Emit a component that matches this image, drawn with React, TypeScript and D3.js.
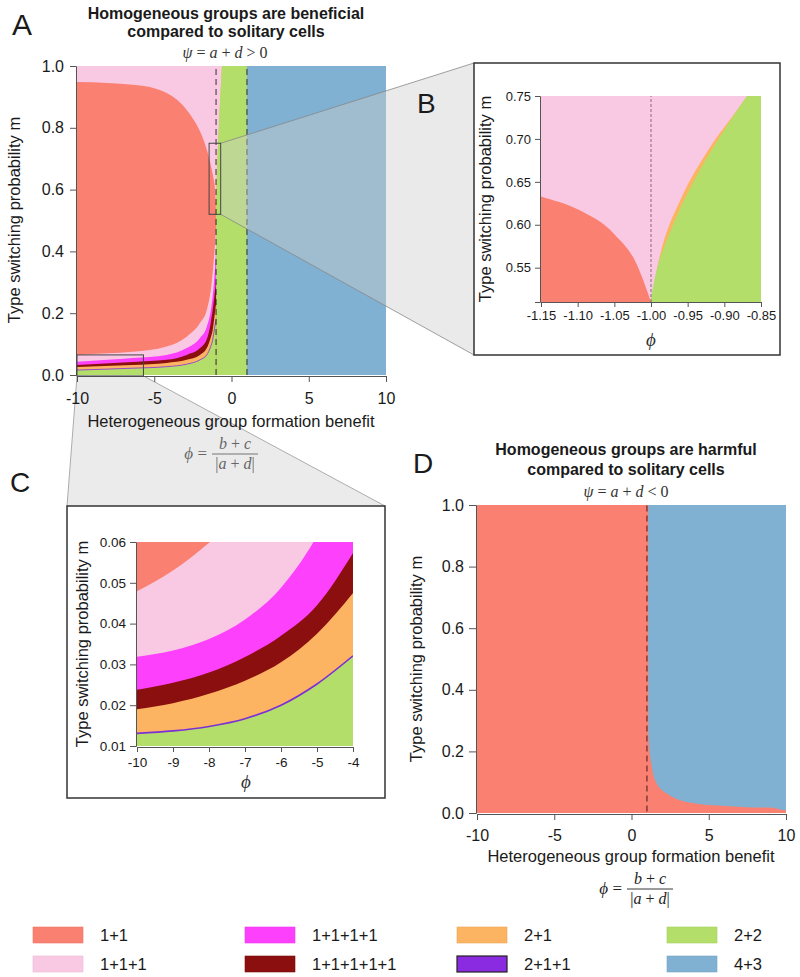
import React, { useEffect, useRef } from 'react';
import * as d3 from 'd3';

// group compositions, legend order (column by column)
const groupLabels = ['1+1', '1+1+1', '1+1+1+1', '1+1+1+1+1', '2+1', '2+1+1', '2+2', '4+3'];
const groupColors = ['#fa8072', '#f9c9e3', '#fc40fc', '#8b0f0f', '#fdb462', '#8a2be2', '#b3de69', '#80b1d3'];

// psi > 0, boundaries as [phi, m]
const redTop = [[-10, 0.948], [-8, 0.945], [-6.4, 0.939], [-5, 0.928], [-4.2, 0.913], [-3.5, 0.89], [-2.9, 0.858], [-2.5, 0.83], [-2.15, 0.8], [-1.8, 0.76], [-1.6, 0.73], [-1.3, 0.67], [-1.15, 0.633], [-1.1, 0.618], [-1.05, 0.589], [-1.02, 0.555], [-1.0, 0.51]];
const redBottom = [[-10, 0.065], [-8, 0.07], [-6.4, 0.075], [-4.2, 0.092], [-2.9, 0.124], [-2.04, 0.168], [-1.6, 0.21], [-1.28, 0.3], [-1.15, 0.37], [-1.06, 0.43], [-1.0, 0.48]];
const pinkBottom = [[-10, 0.043], [-8, 0.049], [-6.4, 0.055], [-4.2, 0.065], [-2.9, 0.087], [-2.04, 0.12], [-1.6, 0.156], [-1.28, 0.23], [-1.15, 0.29], [-1.05, 0.36], [-1.0, 0.4]];
const magentaBottom = [[-10, 0.032], [-6.4, 0.042], [-4.2, 0.049], [-2.9, 0.065], [-2.04, 0.087], [-1.6, 0.116], [-1.35, 0.167], [-1.22, 0.21], [-1.1, 0.26], [-1.0, 0.3]];
const darkredBottom = [[-10, 0.026], [-6.4, 0.032], [-4.2, 0.039], [-2.9, 0.049], [-2.04, 0.065], [-1.6, 0.087], [-1.35, 0.12], [-1.22, 0.145], [-1.1, 0.19], [-1.0, 0.23]];
const orangeBottom = [[-10, 0.016], [-6.4, 0.022], [-4.2, 0.027], [-2.9, 0.035], [-2.04, 0.049], [-1.6, 0.065], [-1.35, 0.092], [-1.22, 0.113], [-1.1, 0.15], [-1.0, 0.18]];
// left edges of the 2+2 and 2+1 regions, [m, phi]
const greenEdge = [[0, -1.0], [0.51, -1.0], [0.53, -0.9965], [0.55, -0.9915], [0.58, -0.9795], [0.6, -0.97], [0.625, -0.957], [0.65, -0.942], [0.675, -0.926], [0.7, -0.908], [0.725, -0.889], [0.75, -0.869], [0.8, -0.826], [0.9, -0.73], [1.0, -0.62]];
const orangeEdge = [[0.51, -1.0], [0.55, -0.9915], [0.58, -0.983], [0.6, -0.975], [0.625, -0.962], [0.65, -0.948], [0.675, -0.931], [0.7, -0.912], [0.725, -0.89], [0.75, -0.869], [1.0, -0.62]];

// panel C (finer grid)
const cRedBottom = [[-10, 0.0479], [-9, 0.053], [-8, 0.0598], [-7, 0.068], [-6, 0.078], [-4, 0.1]];
const cPinkBottom = [[-10, 0.0319], [-9, 0.0334], [-8, 0.0362], [-7, 0.041], [-6, 0.0488], [-5, 0.0615], [-4, 0.08]];
const cMagentaBottom = [[-10, 0.0238], [-9, 0.0255], [-8, 0.028], [-7, 0.0318], [-6, 0.037], [-5, 0.0445], [-4, 0.0573]];
const cDarkredBottom = [[-10, 0.019], [-9, 0.0205], [-8, 0.0228], [-7, 0.026], [-6, 0.0305], [-5, 0.0375], [-4, 0.0475]];
const cOrangeBottom = [[-10, 0.0131], [-9, 0.0137], [-8, 0.0148], [-7, 0.0167], [-6, 0.02], [-5, 0.0252], [-4, 0.0321]];

// psi < 0: 1+1 / 4+3 boundary, [phi, m]
const dBoundary = [[1.08, 1.0], [1.09, 0.5], [1.1, 0.25], [1.32, 0.149], [1.64, 0.095], [2.29, 0.063], [3.15, 0.041], [4.23, 0.03], [5.3, 0.025], [7.46, 0.019], [9.18, 0.017], [9.61, 0.011], [10, 0.009]];

// zoom windows drawn in panel A
const zoomBoxBPhi = [-1.45, -0.7];
const zoomBoxBM = [0.52, 0.75];
const zoomBoxCPhi = [-10, -5.7];
const zoomBoxCM = [-0.003, 0.065];

const aXTicks = [-10, -5, 0, 5, 10];
const aYTicks = [0, 0.2, 0.4, 0.6, 0.8, 1.0];
const bXTicks = [-1.15, -1.1, -1.05, -1.0, -0.95, -0.9, -0.85];
const bYTicks = [0.55, 0.6, 0.65, 0.7, 0.75];
const cXTicks = [-10, -9, -8, -7, -6, -5, -4];
const cYTicks = [0.01, 0.02, 0.03, 0.04, 0.05, 0.06];

const FONT = 'Liberation Sans, Arial, Helvetica, sans-serif';
const SERIF = 'Liberation Serif, DejaVu Serif, Times New Roman, serif';

const col = (name: string) => groupColors[groupLabels.indexOf(name)];

const App = () => {
  const ref = useRef<SVGSVGElement>(null);

  useEffect(() => {
    const svg = d3.select(ref.current);
    svg.selectAll('*').remove();

    const ax = d3.scaleLinear().domain([-10, 10]).range([77, 386]);
    const ay = d3.scaleLinear().domain([0, 1]).range([375, 66]);
    const bx = d3.scaleLinear().domain([-1.15, -0.85]).range([541, 761]);
    const by = d3.scaleLinear().domain([0.51, 0.75]).range([302, 96]);
    const cx = d3.scaleLinear().domain([-10, -4]).range([137, 353]);
    const cy = d3.scaleLinear().domain([0.01, 0.06]).range([746, 542]);
    const dx = d3.scaleLinear().domain([-10, 10]).range([477, 786]);
    const dy = d3.scaleLinear().domain([0, 1]).range([813, 505]);

    const defs = svg.append('defs');
    const clip = (id, x, y) => {
      const [x0, x1] = x.range();
      const [y0, y1] = y.range();
      defs.append('clipPath').attr('id', id).append('rect')
        .attr('x', x0).attr('y', y1).attr('width', x1 - x0).attr('height', y0 - y1);
      return `url(#${id})`;
    };

    const txt = (g, x, y, s, size, opts: any = {}) => {
      const t = g.append('text').attr('x', x).attr('y', y).text(s)
        .attr('font-family', opts.family || FONT).attr('font-size', size)
        .attr('fill', opts.fill || '#1a1a1a')
        .attr('text-anchor', opts.anchor || 'middle');
      if (opts.weight) t.attr('font-weight', opts.weight);
      if (opts.rotate) t.attr('transform', `rotate(${opts.rotate},${x},${y})`);
      return t;
    };

    // serif formula made of [string, italic] parts
    const formula = (g, x, y, parts, size, fill, anchor = 'middle') => {
      const t = g.append('text').attr('x', x).attr('y', y).attr('font-family', SERIF)
        .attr('font-size', size).attr('fill', fill).attr('text-anchor', anchor);
      parts.forEach(([s, it]) => t.append('tspan').text(s).attr('font-style', it ? 'italic' : 'normal'));
    };
    const phiFormula = (g, fc, barY, fill) => {
      formula(g, fc - 28, barY + 5, [['ϕ', true], [' =', false]], 17, fill, 'end');
      formula(g, fc, barY - 5, [['b', true], [' + ', false], ['c', true]], 16, fill);
      formula(g, fc, barY + 15, [['|', false], ['a', true], [' + ', false], ['d', true], ['|', false]], 16, fill);
      g.append('line').attr('x1', fc - 23).attr('x2', fc + 23).attr('y1', barY).attr('y2', barY)
        .attr('stroke', fill).attr('stroke-width', 0.9);
    };

    const axis = (g, scale, orient, ticks, fmt, size, at, len, pad) => {
      const a = (orient === 'left' ? d3.axisLeft(scale) : d3.axisBottom(scale))
        .tickValues(ticks).tickFormat(fmt).tickSizeOuter(0).tickSize(len).tickPadding(pad);
      const ag = g.append('g')
        .attr('transform', orient === 'left' ? `translate(${at},0)` : `translate(0,${at})`)
        .call(a);
      ag.attr('font-family', FONT).attr('font-size', size);
      ag.select('.domain').attr('stroke', '#555');
      ag.selectAll('.tick line').attr('stroke', '#555');
      ag.selectAll('.tick text').attr('fill', '#1a1a1a');
      return ag;
    };

    const area = (x, y, y0) => d3.area().x(d => x(d[0])).y0(y(y0)).y1(d => y(d[1])).curve(d3.curveMonotoneX);
    const edgePath = (x, y, edge) =>
      d3.line().x(d => x(d[1])).y(d => y(d[0])).curve(d3.curveMonotoneY)(edge) +
      `L${x(1)},${y(1)}L${x(1)},${y(0)}Z`;

    // phase map for psi > 0, shared by A and B
    const drawPositive = (g, x, y, dash, dashColor, width) => {
      const [x0, x1] = x.range();
      const [y0, y1] = y.range();
      g.append('rect').attr('x', x0).attr('y', y1).attr('width', x1 - x0).attr('height', y0 - y1).attr('fill', col('1+1+1'));
      g.append('path').attr('d', edgePath(x, y, orangeEdge)).attr('fill', col('2+1'));
      g.append('path').attr('d', edgePath(x, y, greenEdge)).attr('fill', col('2+2'));
      g.append('rect').attr('x', x(1)).attr('y', y(1)).attr('width', x(10) - x(1)).attr('height', y(0) - y(1)).attr('fill', col('4+3'));
      g.append('path').attr('d', area(x, y, 0)(redTop)).attr('fill', col('1+1'));
      const bands = [[redBottom, '1+1+1'], [pinkBottom, '1+1+1+1'], [magentaBottom, '1+1+1+1+1'], [darkredBottom, '2+1'], [orangeBottom, '2+2']];
      bands.forEach(([pts, name]) => g.append('path').attr('d', area(x, y, 0)(pts)).attr('fill', col(name as string)));
      g.append('path').attr('d', d3.line().x(d => x(d[0])).y(d => y(d[1])).curve(d3.curveMonotoneX)(orangeBottom))
        .attr('fill', 'none').attr('stroke', col('2+1+1')).attr('stroke-width', 0.8);
      [-1, 1].forEach(v => g.append('line').attr('x1', x(v)).attr('x2', x(v)).attr('y1', y0).attr('y2', y1)
        .attr('stroke', dashColor).attr('stroke-width', width).attr('stroke-dasharray', dash));
    };

    // ---------- funnel to C (behind A) ----------
    const cFrame = { x0: 67, y0: 506, x1: 385, y1: 798 };
    const bFrame = { x0: 474, y0: 63, x1: 780, y1: 355 };
    const cb = { l: ax(zoomBoxCPhi[0]), r: ax(zoomBoxCPhi[1]), t: ay(zoomBoxCM[1]), b: ay(zoomBoxCM[0]) };
    const bb = { l: ax(zoomBoxBPhi[0]), r: ax(zoomBoxBPhi[1]), t: ay(zoomBoxBM[1]), b: ay(zoomBoxBM[0]) };
    svg.append('path')
      .attr('d', `M${cb.l},${cb.b}L${cb.r},${cb.b}L${cFrame.x1},${cFrame.y0}L${cFrame.x0},${cFrame.y0}Z`)
      .attr('fill', '#ebebeb');
    [[cb.l, cFrame.x0], [cb.r, cFrame.x1]].forEach(([a, b]) =>
      svg.append('line').attr('x1', a).attr('y1', cb.b).attr('x2', b).attr('y2', cFrame.y0).attr('stroke', '#999').attr('stroke-width', 0.8));

    // ---------- Panel A ----------
    const gA = svg.append('g');
    drawPositive(gA.append('g').attr('clip-path', clip('clipA', ax, ay)), ax, ay, '6,4', 'rgba(30,30,30,0.75)', 1.2);
    axis(gA, ay, 'left', aYTicks, d => d3.format('.1f')(d), 16, 76, 6, 6);
    axis(gA, ax, 'bottom', aXTicks, d => String(d), 16, 376, 6, 11);
    txt(gA, 12, 35, 'A', 30, { anchor: 'start' });
    txt(gA, 226, 19, 'Homogeneous groups are beneficial', 16, { weight: 'bold' });
    txt(gA, 226, 37, 'compared to solitary cells', 16, { weight: 'bold' });
    formula(gA, 225, 58, [['ψ', true], [' = ', false], ['a', true], [' + ', false], ['d', true], [' > 0', false]], 16, '#333');
    txt(gA, 20, 220, 'Type switching probability m', 16.5, { rotate: -90 });
    txt(gA, 231, 427, 'Heterogeneous group formation benefit', 16.5);
    phiFormula(gA, 235, 454, '#666');

    // ---------- funnel to B (over A) ----------
    svg.append('path')
      .attr('d', `M${bb.r},${bb.t}L${bFrame.x0},${bFrame.y0}L${bFrame.x0},${bFrame.y1}L${bb.r},${bb.b}Z`)
      .attr('fill', '#cccccc').attr('fill-opacity', 0.42);
    [[bb.t, bFrame.y0], [bb.b, bFrame.y1]].forEach(([a, b]) =>
      svg.append('line').attr('x1', bb.r).attr('y1', a).attr('x2', bFrame.x0).attr('y2', b).attr('stroke', '#888').attr('stroke-width', 0.8));
    [bb, cb].forEach(b => svg.append('rect').attr('x', b.l).attr('y', b.t).attr('width', b.r - b.l).attr('height', b.b - b.t)
      .attr('fill', 'none').attr('stroke', '#444').attr('stroke-width', 1));

    // ---------- Panel B ----------
    const gB = svg.append('g');
    gB.append('rect').attr('x', bFrame.x0).attr('y', bFrame.y0).attr('width', bFrame.x1 - bFrame.x0).attr('height', bFrame.y1 - bFrame.y0)
      .attr('fill', '#fff').attr('stroke', '#333').attr('stroke-width', 1.5);
    drawPositive(gB.append('g').attr('clip-path', clip('clipB', bx, by)), bx, by, '3,2', 'rgba(90,60,90,0.7)', 1);
    axis(gB, by, 'left', bYTicks, d => d.toFixed(2), 13, 540, 5, 4);
    axis(gB, bx, 'bottom', bXTicks, d => d.toFixed(2), 13, 302, 5, 4);
    txt(gB, 417, 113, 'B', 28, { anchor: 'start' });
    txt(gB, 491, 199, 'Type switching probability m', 16.5, { rotate: -90 });
    formula(gB, 651, 346, [['ϕ', true]], 19, '#333');

    // ---------- Panel C ----------
    const gC = svg.append('g');
    gC.append('rect').attr('x', cFrame.x0).attr('y', cFrame.y0).attr('width', cFrame.x1 - cFrame.x0).attr('height', cFrame.y1 - cFrame.y0)
      .attr('fill', '#fff').attr('stroke', '#333').attr('stroke-width', 1.5);
    const pC = gC.append('g').attr('clip-path', clip('clipC', cx, cy));
    pC.append('rect').attr('x', cx(-10)).attr('y', cy(0.06)).attr('width', cx(-4) - cx(-10)).attr('height', cy(0.01) - cy(0.06)).attr('fill', col('1+1'));
    const cBands = [[cRedBottom, '1+1+1'], [cPinkBottom, '1+1+1+1'], [cMagentaBottom, '1+1+1+1+1'], [cDarkredBottom, '2+1'], [cOrangeBottom, '2+2']];
    cBands.forEach(([pts, name]) => pC.append('path').attr('d', area(cx, cy, 0)(pts)).attr('fill', col(name as string)));
    pC.append('path').attr('d', d3.line().x(d => cx(d[0])).y(d => cy(d[1])).curve(d3.curveMonotoneX)(cOrangeBottom))
      .attr('fill', 'none').attr('stroke', '#7b2fd6').attr('stroke-width', 1.6);
    axis(gC, cy, 'left', cYTicks, d => d.toFixed(2), 13.5, 136, 6, 4);
    axis(gC, cx, 'bottom', cXTicks, d => String(d), 13.5, 747, 5, 5);
    txt(gC, 10, 492, 'C', 28, { anchor: 'start' });
    txt(gC, 88, 644, 'Type switching probability m', 16.5, { rotate: -90 });
    formula(gC, 246, 788, [['ϕ', true]], 19, '#333');

    // ---------- Panel D ----------
    const gD = svg.append('g');
    const pD = gD.append('g').attr('clip-path', clip('clipD', dx, dy));
    pD.append('rect').attr('x', dx(-10)).attr('y', dy(1)).attr('width', dx(10) - dx(-10)).attr('height', dy(0) - dy(1)).attr('fill', col('1+1'));
    pD.append('path')
      .attr('d', d3.line().x(d => dx(d[0])).y(d => dy(d[1])).curve(d3.curveMonotoneX)(dBoundary) + `L${dx(10)},${dy(1)}Z`)
      .attr('fill', col('4+3'));
    pD.append('line').attr('x1', dx(1)).attr('x2', dx(1)).attr('y1', dy(0.005)).attr('y2', dy(1))
      .attr('stroke', 'rgba(60,20,20,0.8)').attr('stroke-width', 1.2).attr('stroke-dasharray', '6,4');
    axis(gD, dy, 'left', aYTicks, d => d3.format('.1f')(d), 16, 476, 7, 5);
    axis(gD, dx, 'bottom', aXTicks, d => String(d), 16, 814, 6, 10);
    txt(gD, 413, 473, 'D', 28, { anchor: 'start' });
    txt(gD, 626, 455, 'Homogeneous groups are harmful', 16, { weight: 'bold' });
    txt(gD, 626, 475, 'compared to solitary cells', 16, { weight: 'bold' });
    formula(gD, 626, 497, [['ψ', true], [' = ', false], ['a', true], [' + ', false], ['d', true], [' < 0', false]], 16, '#333');
    txt(gD, 422, 659, 'Type switching probability m', 16.5, { rotate: -90 });
    txt(gD, 631, 862, 'Heterogeneous group formation benefit', 16.5);
    phiFormula(gD, 650, 889, '#222');

    // ---------- Legend ----------
    const colX = [33, 245, 457, 667];
    const rowY = [927, 956];
    const gL = svg.append('g');
    groupLabels.forEach((label, i) => {
      const c = Math.floor(i / 2);
      const r = i % 2;
      gL.append('rect').attr('x', colX[c]).attr('y', rowY[r]).attr('width', 50).attr('height', 16)
        .attr('fill', groupColors[i])
        .attr('stroke', label === '2+1+1' ? '#222' : d3.color(groupColors[i]).darker(0.2).toString())
        .attr('stroke-width', label === '2+1+1' ? 1.2 : 0.6);
      txt(gL, colX[c] + 67, rowY[r] + 14, label, 16.5, { anchor: 'start' });
    });
  }, []);

  return (
    <div>
      <svg ref={ref} width={800} height={977} style={{ position: 'absolute', left: 0, top: 0, display: 'block' }} />
    </div>
  );
};

export default App;
